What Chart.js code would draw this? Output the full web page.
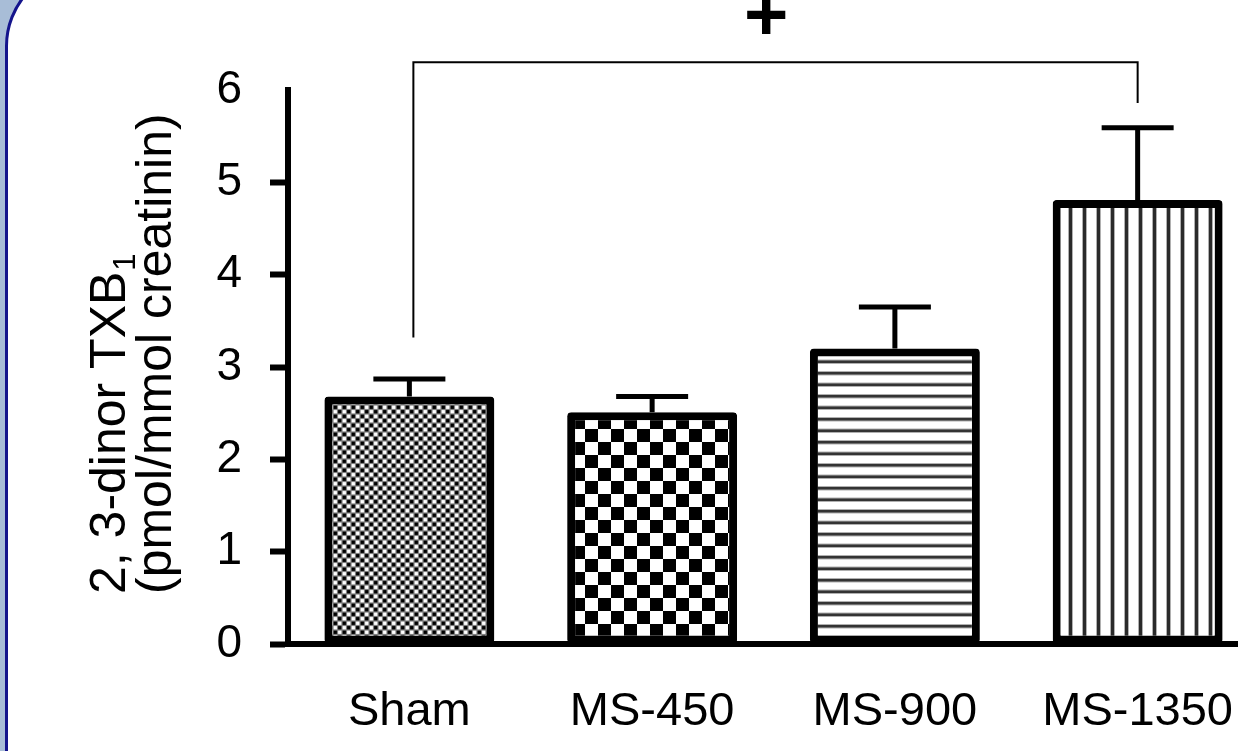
<!DOCTYPE html>
<html>
<head>
<meta charset="utf-8">
<script src="https://cdn.jsdelivr.net/npm/chart.js@4.4.1/dist/chart.umd.min.js"></script>
<style>
  html, body { margin: 0; padding: 0; width: 1238px; height: 751px; overflow: hidden; background: #a8bdd7; }
  #panel { position: absolute; left: 5px; top: -34px; width: 1400px; height: 900px; background: #fff;
           border: 3px solid #14148c; border-radius: 80px; }
  #wrap { position: absolute; left: 0; top: 0; width: 1273px; height: 751px; }
</style>
</head>
<body>
<div id="panel"></div>
<div id="wrap"><canvas id="chart" width="1273" height="751"></canvas></div>
<script>
const categories = ["Sham", "MS-450", "MS-900", "MS-1350"];
const means = [2.68, 2.51, 3.2, 4.81];
const sem = [0.19, 0.17, 0.45, 0.78];
const yTicks = [0, 1, 2, 3, 4, 5, 6];
// significance bracket: groups compared, [left foot, bar level, right foot]
const bracketPair = [0, 3];
const bracketLevels = [3.32, 6.3, 5.86];
const bracketLabel = "+";
const titleLines = ["2, 3-dinor TXB", "(pmol/mmol creatinin)"];
const titleSub = "1";

const FONT = '"Liberation Sans", Arial, sans-serif';

function makePattern(kind) {
  const c = document.createElement("canvas");
  const g = c.getContext("2d");
  if (kind === "fine") {
    c.width = 9; c.height = 9;
    g.fillStyle = "#808080"; g.fillRect(0, 0, 9, 9);
    g.fillStyle = "#000";
    g.fillRect(0.6, 0.6, 3.3, 3.3); g.fillRect(5.1, 5.1, 3.3, 3.3);
    g.fillStyle = "#fff";
    g.fillRect(5.1, 0.6, 3.3, 3.3); g.fillRect(0.6, 5.1, 3.3, 3.3);
  } else if (kind === "checker") {
    c.width = 26; c.height = 26;
    g.fillStyle = "#fff"; g.fillRect(0, 0, 26, 26);
    g.fillStyle = "#000";
    g.fillRect(0, 0, 13, 13); g.fillRect(13, 13, 13, 13);
  } else if (kind === "hstripe") {
    c.width = 4; c.height = 23;
    g.fillStyle = "#fff"; g.fillRect(0, 0, 4, 23);
    g.fillStyle = "#b0b0b0";
    g.fillRect(0, 3, 4, 4.5); g.fillRect(0, 14.5, 4, 4.5);
    g.fillStyle = "#333";
    g.fillRect(0, 4, 4, 2.5); g.fillRect(0, 15.5, 4, 2.5);
  } else {
    c.width = 14; c.height = 4;
    g.fillStyle = "#fff"; g.fillRect(0, 0, 14, 4);
    g.fillStyle = "#b0b0b0"; g.fillRect(4, 0, 5, 4);
    g.fillStyle = "#2a2a2a"; g.fillRect(5, 0, 3, 4);
  }
  return g.createPattern(c, "repeat");
}

const fills = ["fine", "checker", "hstripe", "vstripe"].map(makePattern);

const errorBars = {
  id: "errorBars",
  afterDatasetsDraw(chart) {
    const { ctx, scales: { x, y } } = chart;
    ctx.save();
    ctx.strokeStyle = "#000";
    ctx.lineWidth = 5;
    means.forEach((m, i) => {
      const px = x.getPixelForValue(i);
      const top = y.getPixelForValue(m + sem[i]);
      const base = y.getPixelForValue(m);
      ctx.beginPath();
      ctx.moveTo(px, base);
      ctx.lineTo(px, top);
      ctx.moveTo(px - 36, top);
      ctx.lineTo(px + 36, top);
      ctx.stroke();
    });
    ctx.restore();
  }
};

const bracket = {
  id: "bracket",
  afterDraw(chart) {
    const { ctx, scales: { x, y } } = chart;
    const x1 = x.getPixelForValue(bracketPair[0]) + 4;
    const x2 = x.getPixelForValue(bracketPair[1]);
    const yl = y.getPixelForValue(bracketLevels[0]);
    const ym = y.getPixelForValue(bracketLevels[1]);
    const yr = y.getPixelForValue(bracketLevels[2]);
    ctx.save();
    ctx.strokeStyle = "#000";
    ctx.lineWidth = 2;
    ctx.beginPath();
    ctx.moveTo(x1, yl);
    ctx.lineTo(x1, ym);
    ctx.lineTo(x2, ym);
    ctx.lineTo(x2, yr);
    ctx.stroke();
    ctx.fillStyle = "#000";
    ctx.font = "bold 76px " + FONT;
    ctx.textAlign = "center";
    ctx.textBaseline = "alphabetic";
    ctx.fillText(bracketLabel, x1 + (x2 - x1) * 0.487, ym - 22);
    ctx.restore();
  }
};

const yTitle = {
  id: "yTitle",
  afterDraw(chart) {
    const { ctx } = chart;
    ctx.save();
    ctx.fillStyle = "#000";
    ctx.textAlign = "left";
    ctx.textBaseline = "alphabetic";
    ctx.translate(125, 594);
    ctx.rotate(-Math.PI / 2);
    ctx.font = "50px " + FONT;
    ctx.fillText(titleLines[0], 0, 0);
    const w = ctx.measureText(titleLines[0]).width;
    ctx.font = "31px " + FONT;
    ctx.fillText(titleSub, w + 1, 10);
    ctx.font = "50px " + FONT;
    ctx.fillText(titleLines[1], 0, 46);
    ctx.restore();
  }
};

new Chart(document.getElementById("chart"), {
  type: "bar",
  data: {
    labels: categories,
    datasets: [{
      data: means,
      backgroundColor: fills,
      borderColor: "#000",
      borderWidth: 8,
      borderRadius: 4,
      borderSkipped: false,
      barPercentage: 0.7,
      categoryPercentage: 1
    }]
  },
  options: {
    responsive: false,
    animation: false,
    layout: { padding: { top: 90, right: 0, bottom: 0, left: 0 } },
    plugins: { legend: { display: false }, tooltip: { enabled: false } },
    scales: {
      x: {
        grid: { drawOnChartArea: false, drawTicks: false },
        border: { color: "#000", width: 6 },
        ticks: { color: "#000", font: { family: FONT, size: 47 }, padding: 40 },
        afterFit(scale) { scale.height = 107; }
      },
      y: {
        min: 0,
        max: 6,
        afterBuildTicks(scale) { scale.ticks = yTicks.map(v => ({ value: v })); },
        grid: {
          drawOnChartArea: false,
          tickLength: 18,
          tickWidth: 6,
          tickColor: ctx => (ctx.tick && ctx.tick.value === 6 ? "rgba(0,0,0,0)" : "#000")
        },
        border: { color: "#000", width: 6 },
        ticks: { color: "#000", font: { family: FONT, size: 46 }, padding: 28 },
        afterFit(scale) { scale.width = 288; }
      }
    }
  },
  plugins: [errorBars, bracket, yTitle]
});
</script>
</body>
</html>
